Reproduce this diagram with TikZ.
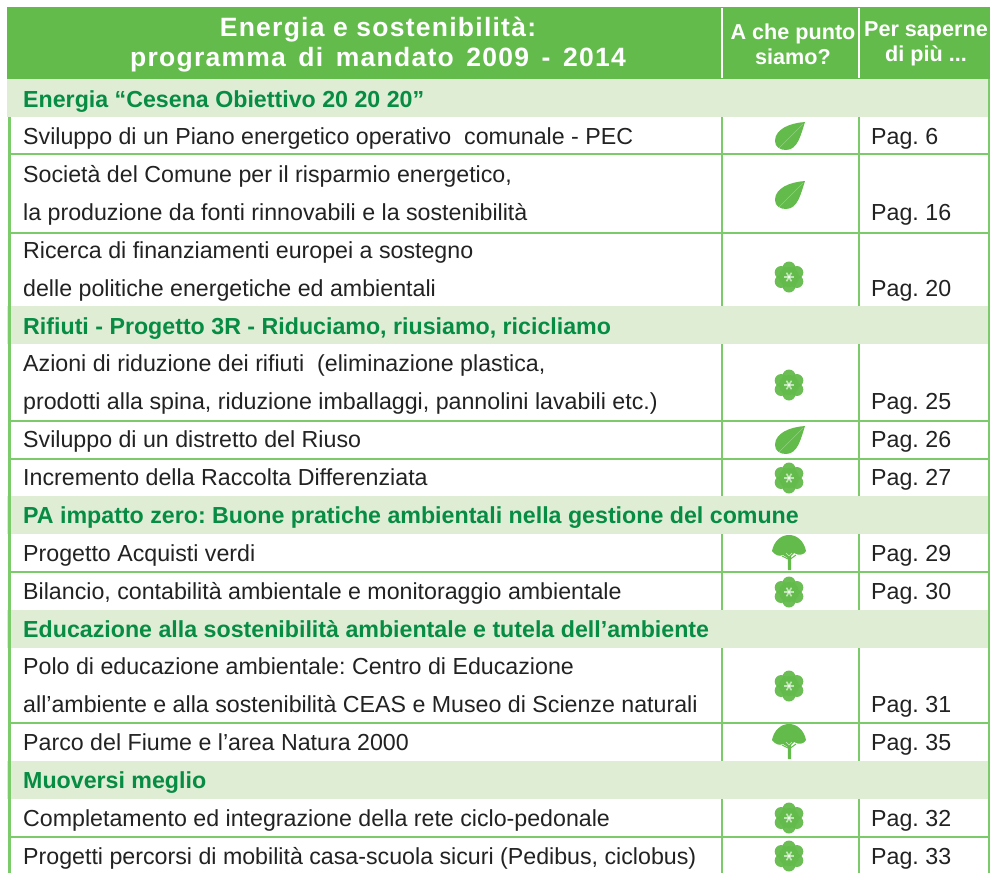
\documentclass[tikz,border=0pt]{standalone}
\usepackage{fontspec}
\setmainfont{Liberation Sans}
\newfontfamily\headfont[LetterSpace=4.7]{Liberation Sans Bold}
\newfontfamily\colfont{Liberation Sans Bold}
\definecolor{hgreen}{HTML}{63BB4B}
\definecolor{lgreen}{HTML}{7CCB6B}
\definecolor{band}{HTML}{DFEDD5}
\definecolor{dgreen}{HTML}{078C43}
\definecolor{ink}{HTML}{222222}
\tikzset{
 rowtext/.style={anchor=base west,inner sep=0pt,text=ink,font=\fontsize{23.2}{24}\selectfont\frenchspacing},
 pagetext/.style={rowtext},
 bandtext/.style={anchor=base west,inner sep=0pt,text=dgreen,font=\fontsize{23.2}{24}\selectfont\bfseries\frenchspacing},
 headtext/.style={align=center,inner sep=0pt,text=white,font=\fontsize{26.5}{30}\selectfont\headfont},
 coltext/.style={align=center,inner sep=0pt,text=white,font=\fontsize{21.6}{25}\selectfont\colfont},
 rule/.style={draw=lgreen,line width=2pt},
 pics/leaf/.style={code={
  \fill[hgreen] (15,-14) .. controls (0,-13) and (-15,-7) .. (-15,5) .. controls (-15,11) and (-10,14) .. (-4,14) .. controls (8,14) and (11,-2) .. (15,-14) -- cycle;
  \draw[white,opacity=.3,line width=.4pt] (13,-12) -- (-11,12);
 }},
 pics/flower/.style={code={
  \foreach \a in {30,90,...,330}{\fill[hgreen,opacity=.95] (\a:9) circle (6.5);}
  \fill[hgreen] (0,0) circle (10);
  \foreach \a in {0,60,120}{\draw[white,line width=1.6pt,opacity=.6] (\a:5) -- (\a+180:5);}
 }},
 pics/tree/.style={code={
  \fill[hgreen] (-17,-2) .. controls (-15,-12) and (-8,-18) .. (0,-18) .. controls (8,-18) and (15,-12) .. (17,-2) .. controls (15,2) and (10,3) .. (5,0) -- (2,3) -- (2.2,17) -- (-1,17) -- (-1.2,5) -- (-6,2) .. controls (-10,4) and (-14,2) .. (-17,-2) -- cycle;
  \draw[hgreen,line width=1pt] (-1,6) -- (-7,3) (1.5,6) -- (7,2);
  \draw[white,line width=.6pt,opacity=.7] (-3,0) -- (0,3) -- (3,0);
 }}
}
\newcommand{\hws}{\hspace{4pt} }
\begin{document}
\begin{tikzpicture}[x=1pt,y=-1pt]
\useasboundingbox (0,0) rectangle (991,873);
\fill[white] (0,0) rectangle (991,873);
% header and bands
\fill[hgreen] (7,7) rectangle (990,79);
\foreach \t/\b in {79/117,306/344,496/534,610/648,761/799}{\fill[band] (7,\t) rectangle (988,\b);}
% borders
\coordinate (tl) at (9,117); \coordinate (bl) at (9,873);
\coordinate (tr) at (989,79); \coordinate (br) at (989,873);
\draw[rule,line width=3pt] (tl) -- (bl);
\draw[rule,line width=2.5pt] (tr) -- (br);
% column rules
\foreach \t/\b in {117/306,344/496,534/610,648/761,799/873}{
 \draw[rule,line width=1.7pt] (722,\t) -- (722,\b);
 \draw[rule,line width=1.7pt] (859,\t) -- (859,\b);}
\draw[white,line width=1.2pt] (722,8) -- (722,78);
\draw[white,line width=1.2pt] (859,8) -- (859,78);
% row rules
\foreach \y in {154,233,421,459,572,723,837}{\draw[rule] (9,\y) -- (989,\y);}
% header
\node[headtext] (h1) at (378,45) {Energia e sostenibilità:\\programma\hws di\hws mandato\hws 2009\hws -\hws 2014};
\node[coltext] (h2) at (793,44) {A che punto\\siamo?};
\node[coltext] (h3) at (926,44) {Per saperne\\di più ...};
% bands
\node[bandtext] (b1) at (23,107) {Energia “Cesena Obiettivo 20 20 20”};
\node[bandtext] (b2) at (23,334) {Rifiuti - Progetto 3R - Riduciamo, riusiamo, ricicliamo};
\node[bandtext] (b3) at (23,523) {PA impatto zero: Buone pratiche ambientali nella gestione del comune};
\node[bandtext] (b4) at (23,637) {Educazione alla sostenibilità ambientale e tutela dell’ambiente};
\node[bandtext] (b5) at (23,788) {Muoversi meglio};
% rows
\node[rowtext] (r1) at (23,144) {Sviluppo di un Piano energetico operativo\ \ comunale - PEC};
\node[rowtext] (r2) at (23,182) {Società del Comune per il risparmio energetico,};
\node[rowtext] (r3) at (23,220) {la produzione da fonti rinnovabili e la sostenibilità};
\node[rowtext] (r4) at (23,258) {Ricerca di finanziamenti europei a sostegno};
\node[rowtext] (r5) at (23,296) {delle politiche energetiche ed ambientali};
\node[rowtext] (r6) at (23,371) {Azioni di riduzione dei rifiuti\ \ (eliminazione plastica,};
\node[rowtext] (r7) at (23,409) {prodotti alla spina, riduzione imballaggi, pannolini lavabili etc.)};
\node[rowtext] (r8) at (23,447) {Sviluppo di un distretto del Riuso};
\node[rowtext] (r9) at (23,485) {Incremento della Raccolta Differenziata};
\node[rowtext] (r10) at (23,561) {Progetto Acquisti verdi};
\node[rowtext] (r11) at (23,599) {Bilancio, contabilità ambientale e monitoraggio ambientale};
\node[rowtext] (r12) at (23,674) {Polo di educazione ambientale: Centro di Educazione};
\node[rowtext] (r13) at (23,712) {all’ambiente e alla sostenibilità CEAS e Museo di Scienze naturali};
\node[rowtext] (r14) at (23,750) {Parco del Fiume e l’area Natura 2000};
\node[rowtext] (r15) at (23,826) {Completamento ed integrazione della rete ciclo-pedonale};
\node[rowtext] (r16) at (23,864) {Progetti percorsi di mobilità casa-scuola sicuri (Pedibus, ciclobus)};
% pages
\foreach \n/\y/\p in {1/144/6,2/220/16,3/296/20,4/409/25,5/447/26,6/485/27,7/561/29,8/599/30,9/712/31,10/750/35,11/826/32,12/864/33}{
 \node[pagetext] (p\n) at (871,\y) {Pag. \p};}
% icons
\foreach \y in {136,195,440}{\pic at (790,\y) {leaf};}
\foreach \y in {277,385,478,592,686,818,856}{\pic at (789,\y) {flower};}
\foreach \y in {553,742}{\pic at (789,\y) {tree};}
\end{tikzpicture}
\end{document}
